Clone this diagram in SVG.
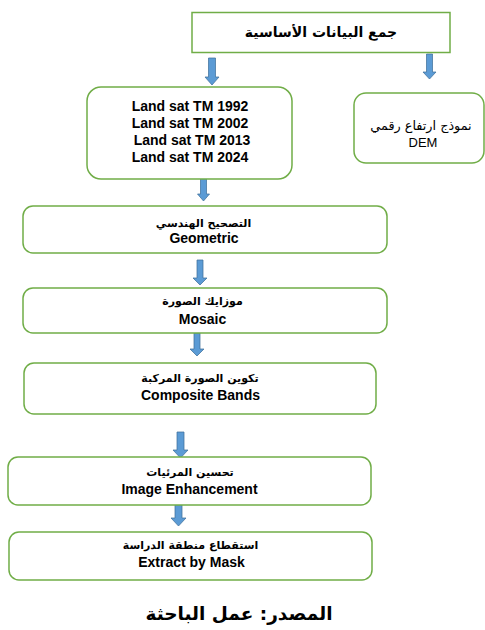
<svg xmlns="http://www.w3.org/2000/svg" width="485" height="630" viewBox="0 0 485 630">
<style>
.box{fill:#fff;stroke:#70ad47;stroke-width:1.5}
.arr{fill:#5b9bd5;stroke:#41719c;stroke-width:0.75}
.en{font-family:"Liberation Sans",Arial,sans-serif;font-weight:bold;font-size:14px;fill:#000;text-anchor:middle}
.ar{font-family:"DejaVu Sans",sans-serif;font-weight:bold;font-size:11px;fill:#000;text-anchor:middle}
.arn{font-family:"DejaVu Sans",sans-serif;font-size:12.8px;fill:#000;text-anchor:middle}
.den{font-family:"Liberation Sans",Arial,sans-serif;font-size:13px;fill:#000;text-anchor:middle}
.foot{font-family:"DejaVu Sans",serif;font-weight:bold;font-size:18.5px;fill:#000;text-anchor:middle}
</style>
<rect width="485" height="630" fill="#fff"/>
<g id="connectors">
<path class="arr" d="M208.5,58 H215.5 V77 H219 L212,85 L205,77 H208.5 Z"/>
<path class="arr" d="M426.5,54 H432.5 V72 H436 L429.5,79 L423,72 H426.5 Z"/>
<path class="arr" d="M200.5,177 H206.5 V194 H209.5 L203.5,201 L197.5,194 H200.5 Z"/>
<path class="arr" d="M197,260 H203 V278 H207 L200,285 L193,278 H197 Z"/>
<path class="arr" d="M194,333 H200 V349 H204 L197,356 L190,349 H194 Z"/>
<path class="arr" d="M177,432 H184 V450 H188 L180.5,458 L173,450 H177 Z"/>
<path class="arr" d="M175,504 H182 V518 H186 L178.5,526 L171,518 H175 Z"/>
</g>
<g id="n_basic">
<rect class="box" x="192" y="12.5" width="258" height="40"/>
<text class="ar" x="321" y="37" style="font-size:14px">جمع البيانات الأساسية</text>
</g>
<g id="n_landsat">
<rect class="box" x="87" y="87" width="205" height="92" rx="14"/>
<text class="en" x="190" y="110.5">Land sat TM 1992</text>
<text class="en" x="190" y="127.5">Land sat TM 2002</text>
<text class="en" x="192" y="145">Land sat TM 2013</text>
<text class="en" x="190" y="162">Land sat TM 2024</text>
</g>
<g id="n_dem">
<rect class="box" x="354" y="93" width="130" height="70" rx="12"/>
<text class="arn" x="421" y="130">نموذج ارتفاع رقمي</text>
<text class="den" x="423" y="146.5">DEM</text>
</g>
<g id="n_geometric">
<rect class="box" x="23" y="206" width="364" height="47" rx="10"/>
<text class="ar" x="203.5" y="226.5">التصحيح الهندسي</text>
<text class="en" x="204" y="242.5">Geometric</text>
</g>
<g id="n_mosaic">
<rect class="box" x="23" y="288" width="364" height="45" rx="10"/>
<text class="ar" x="202.5" y="305">موزايك الصورة</text>
<text class="en" x="202.5" y="324">Mosaic</text>
</g>
<g id="n_composite">
<rect class="box" x="24" y="363" width="352" height="51" rx="10"/>
<text class="ar" x="200" y="381.5">تكوين الصورة المركبة</text>
<text class="en" x="200.5" y="400">Composite Bands</text>
</g>
<g id="n_enhance">
<rect class="box" x="8" y="457" width="363" height="48" rx="10"/>
<text class="ar" x="190" y="476">تحسين المرئيات</text>
<text class="en" x="189.5" y="494">Image Enhancement</text>
</g>
<g id="n_extract">
<rect class="box" x="9" y="532" width="363" height="48" rx="10"/>
<text class="ar" x="190.5" y="549">استقطاع منطقة الدراسة</text>
<text class="en" x="191.5" y="567">Extract by Mask</text>
</g>
<text class="foot" x="239" y="620">المصدر: عمل الباحثة</text>
</svg>
